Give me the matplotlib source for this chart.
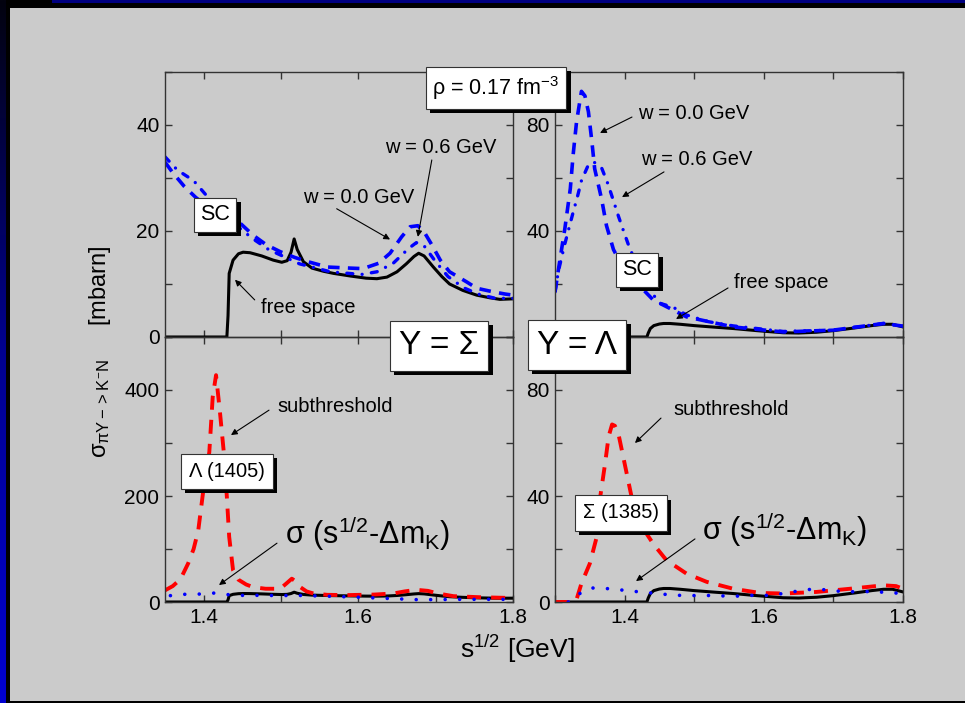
import matplotlib.pyplot as plt
import numpy as np
from matplotlib.patches import Rectangle
from matplotlib import patheffects
from matplotlib.colors import LinearSegmentedColormap
from matplotlib.ticker import MultipleLocator, FixedFormatter, FixedLocator

plt.rcParams['font.family'] = ['Liberation Sans', 'DejaVu Sans']
plt.rcParams['mathtext.fontset'] = 'custom'
plt.rcParams['mathtext.rm'] = 'Liberation Sans'
plt.rcParams['mathtext.it'] = 'Liberation Sans'
plt.rcParams['mathtext.bf'] = 'Liberation Sans:bold'

# ---------------- data
# free space, Y = Sigma (same curve in upper and lower left panels)
x_free_sig = [1.35, 1.43, 1.4315, 1.433, 1.438, 1.445, 1.451, 1.46, 1.475, 1.49, 1.501,
              1.508, 1.513, 1.517, 1.521, 1.529, 1.54, 1.555, 1.568, 1.59, 1.61, 1.624,
              1.637, 1.65, 1.662, 1.672, 1.678, 1.685, 1.697, 1.708, 1.718, 1.735, 1.753,
              1.77, 1.783, 1.8]
y_free_sig = [0, 0, 4, 12, 14.5, 15.7, 16.0, 15.9, 15.3, 14.5, 14.1,
              14.4, 16.0, 18.5, 16.5, 14.2, 13.0, 12.4, 12.0, 11.5, 11.1, 11.0,
              11.3, 12.3, 13.8, 15.2, 15.8, 15.3, 13.2, 11.4, 10.0, 8.8, 7.9,
              7.4, 7.1, 7.2]

# free space, Y = Lambda (same curve in upper and lower right panels)
x_free_lam = [1.3, 1.432, 1.434, 1.437, 1.442, 1.45, 1.456, 1.465, 1.48, 1.5, 1.53,
              1.556, 1.59, 1.628, 1.65, 1.676, 1.7, 1.73, 1.755, 1.772, 1.785, 1.8]
y_free_lam = [0, 0, 1.5, 3.2, 4.3, 4.9, 5.1, 5.1, 4.8, 4.3, 3.7,
              3.2, 2.4, 1.6, 1.5, 1.8, 2.4, 3.4, 4.3, 4.8, 4.8, 3.8]

# SC, Y = Sigma, w = 0.0 GeV
x_sc0_sig = [1.35, 1.36, 1.375, 1.39, 1.42, 1.447, 1.464, 1.481, 1.499, 1.518, 1.535,
             1.56, 1.589, 1.606, 1.626, 1.641, 1.656, 1.667, 1.677, 1.686, 1.695,
             1.706, 1.718, 1.74, 1.753, 1.775, 1.79, 1.8]
y_sc0_sig = [33.0, 31.0, 28.4, 26.3, 23.0, 21.5, 19.2, 17.4, 16.1, 15.0, 14.2,
             13.2, 13.0, 12.9, 13.9, 15.8, 18.9, 20.8, 21.0, 19.6, 17.4,
             14.5, 12.3, 10.4, 9.2, 8.5, 8.1, 7.9]

# SC, Y = Sigma, w = 0.6 GeV
x_sc6_sig = [1.35, 1.366, 1.387, 1.403, 1.43, 1.463, 1.484, 1.524, 1.564, 1.604, 1.624,
             1.645, 1.665, 1.675, 1.684, 1.699, 1.716, 1.736, 1.755, 1.777, 1.8]
y_sc6_sig = [34.0, 31.5, 29.5, 26.8, 22.5, 18.6, 16.5, 13.8, 12.3, 11.8, 12.3,
             13.9, 16.7, 17.8, 17.4, 14.4, 11.4, 9.3, 8.1, 7.3, 7.3]

# SC, Y = Lambda, w = 0.0 GeV
x_sc0_lam = [1.3, 1.307, 1.314, 1.322, 1.326, 1.331, 1.338, 1.343, 1.348, 1.353, 1.357,
             1.367, 1.374, 1.384, 1.4, 1.413, 1.441, 1.489, 1.556, 1.628, 1.7, 1.772, 1.8]
y_sc0_lam = [17, 29, 40.6, 56, 68.6, 81.3, 92.7, 91, 85, 73.7, 63.5,
             52, 42, 33, 25, 21.6, 14, 7.6, 3.8, 1.9, 2.6, 5.1, 4.1]

# SC, Y = Lambda, w = 0.6 GeV
x_sc6_lam = [1.3, 1.305, 1.314, 1.326, 1.332, 1.338, 1.348, 1.356, 1.367, 1.376, 1.384,
             1.391, 1.399, 1.407, 1.42, 1.435, 1.451, 1.47, 1.489, 1.52, 1.556, 1.628,
             1.7, 1.772, 1.8]
y_sc6_lam = [17, 25, 35, 47, 52.7, 59, 65, 66, 63.8, 57.8, 51.4,
             45.7, 39.6, 33.7, 26, 18, 12.7, 11.2, 8.3, 5.8, 4.2, 2.1,
             2.6, 5.1, 4.1]

# subthreshold, Y = Sigma (Lambda(1405))
x_sub_sig = [1.35, 1.36, 1.37, 1.38, 1.387, 1.393, 1.3996, 1.404, 1.4073, 1.4117, 1.416,
             1.421, 1.426, 1.43, 1.433, 1.438, 1.445, 1.455, 1.464, 1.48, 1.499, 1.507,
             1.514, 1.52, 1.525, 1.533, 1.542, 1.56, 1.585, 1.62, 1.645, 1.66, 1.675,
             1.69, 1.703, 1.723, 1.757, 1.8]
y_sub_sig = [22, 30, 43, 73, 100, 135, 211, 250, 283, 387, 428,
             359, 283, 198, 123, 60, 42, 33, 28, 25, 25, 35,
             44, 38, 28, 20, 16, 13.5, 13, 14, 16, 20, 23,
             21, 16, 11, 9, 7.5]

# sigma(s^1/2 - dm_K), Y = Sigma
x_shift_sig = [1.357, 1.365, 1.38, 1.395, 1.405, 1.415, 1.425, 1.44, 1.46, 1.48, 1.5,
               1.52, 1.545, 1.57, 1.6, 1.623, 1.65, 1.675, 1.7, 1.73, 1.77, 1.8]
y_shift_sig = [12, 14.5, 14.5, 15, 16, 17, 15, 12.5, 12.5, 12.5, 12,
               12.5, 11.5, 10.5, 9, 7.6, 6, 4.5, 4.5, 5, 5, 5]

# subthreshold, Y = Lambda (Sigma(1385))
x_sub_lam = [1.3, 1.328, 1.331, 1.338, 1.35, 1.36, 1.365, 1.372, 1.377, 1.382, 1.386,
             1.391, 1.4, 1.41, 1.422, 1.441, 1.46, 1.489, 1.518, 1.556, 1.595, 1.628,
             1.676, 1.724, 1.772, 1.79, 1.8]
y_sub_lam = [0, 0, 1, 7, 14.5, 24.6, 39.7, 52.3, 62.4, 67, 66.5,
             63.6, 52.3, 39.7, 29.6, 22, 15.8, 10.7, 7.6, 5, 3.4, 3.2,
             3.8, 5.0, 6.3, 6.0, 5.0]

# sigma(s^1/2 - dm_K), Y = Lambda
x_shift_lam = [1.319, 1.33, 1.342, 1.355, 1.379, 1.4, 1.422, 1.446, 1.469, 1.492, 1.513,
               1.54, 1.56, 1.583, 1.604, 1.628, 1.65, 1.674, 1.695, 1.719, 1.741, 1.765,
               1.787, 1.8]
y_shift_lam = [0, 2, 4.5, 5.3, 5.0, 4.4, 3.8, 3.2, 2.6, 2.4, 2.5,
               2.3, 2.2, 2.5, 2.5, 3.2, 4.2, 5.0, 4.4, 3.8, 4.0, 3.8,
               3.4, 3.3]

# upper right panel: the 0 label sits under the "Y = Lambda" box
tr_yticks = [0, 40, 80]
tr_ylabels = ['', '40', '80']

# ---------------- figure
W, H = 965, 703
GRAY = '#cbcbcb'
BLUE = '#0000ff'
RED = '#ff0000'


def rect(x0, y0, x1, y1):
    return [x0 / W, 1 - y1 / H, (x1 - x0) / W, (y1 - y0) / H]


def fpos(x, y):
    return x / W, 1 - y / H


fig = plt.figure(figsize=(W / 100, H / 100), dpi=100, facecolor='black')

# frame
fig.add_artist(Rectangle((10 / W, 2 / H), 955 / W, 693 / H, transform=fig.transFigure,
                         fc=GRAY, ec='none', zorder=-10))
fig.add_artist(Rectangle((52 / W, 1 - 3 / H), 913 / W, 3 / H, transform=fig.transFigure,
                         fc='#000080', ec='none', zorder=-10))
ax_strip = fig.add_axes([0, 0, 6 / W, 1])
strip_cmap = LinearSegmentedColormap.from_list('strip', ['#03030f', '#000090', '#0000d0'])
ax_strip.imshow(np.linspace(0, 1, 256).reshape(-1, 1), aspect='auto', cmap=strip_cmap)
ax_strip.axis('off')

ax_tl = fig.add_axes(rect(165, 72, 513, 337))
ax_tr = fig.add_axes(rect(555, 72, 903, 337))
ax_bl = fig.add_axes(rect(165, 337, 513, 602))
ax_br = fig.add_axes(rect(555, 337, 903, 602))


def style(ax, xlim, ylim, ymaj, xlabels):
    ax.set_xlim(*xlim)
    ax.set_ylim(*ylim)
    ax.patch.set_visible(False)
    ax.xaxis.set_major_locator(MultipleLocator(0.2))
    ax.xaxis.set_minor_locator(MultipleLocator(0.1))
    ax.yaxis.set_major_locator(MultipleLocator(ymaj))
    ax.yaxis.set_minor_locator(MultipleLocator(ymaj / 2))
    ax.tick_params(which='both', direction='in', top=True, right=True, length=5,
                   width=1, color='#333333', labelsize=15, pad=4)
    if not xlabels:
        ax.tick_params(labelbottom=False)
    for s in ax.spines.values():
        s.set_color('#333333')
        s.set_linewidth(1)


style(ax_tl, (1.35, 1.8), (0, 50), 20, False)
style(ax_tr, (1.3, 1.8), (0, 100), 40, False)
style(ax_bl, (1.35, 1.8), (0, 500), 200, True)
style(ax_br, (1.3, 1.8), (0, 100), 40, True)
ax_tr.yaxis.set_major_locator(FixedLocator(tr_yticks))
ax_tr.yaxis.set_major_formatter(FixedFormatter(tr_ylabels))

solid = dict(color='black', lw=2.2, zorder=2)
dash0 = dict(color=BLUE, lw=2.6, ls=(0, (3.2, 2.3)), zorder=2.5)
dash6 = dict(color=BLUE, lw=2.4, ls=(0, (1.8, 2.8, 0.01, 2.8)), dash_capstyle='round',
             zorder=2.5)
red_d = dict(color=RED, lw=2.8, ls=(0, (3.6, 2.6)), zorder=2.5)
dots = dict(color=BLUE, lw=2.6, ls=(0, (0.01, 4)), dash_capstyle='round', zorder=2.5)

ax_tl.plot(x_free_sig, y_free_sig, **solid)
ax_tl.plot(x_sc0_sig, y_sc0_sig, **dash0)
ax_tl.plot(x_sc6_sig, y_sc6_sig, **dash6)

ax_tr.plot(x_free_lam, y_free_lam, **solid)
ax_tr.plot(x_sc0_lam, y_sc0_lam, **dash0)
ax_tr.plot(x_sc6_lam, y_sc6_lam, **dash6)

ax_bl.plot(x_free_sig, y_free_sig, **solid)
ax_bl.plot(x_sub_sig, y_sub_sig, **red_d)
ax_bl.plot(x_shift_sig, y_shift_sig, **dots)

ax_br.plot(x_free_lam, y_free_lam, **solid)
ax_br.plot(x_sub_lam, y_sub_lam, **red_d)
ax_br.plot(x_shift_lam, y_shift_lam, **dots)

# ---------------- annotations
arrow = dict(arrowstyle='-|>', color='black', lw=0.8, mutation_scale=9,
             shrinkA=0, shrinkB=0)


def note(ax, txt, pos, tail, head, size=14.5):
    ax.text(pos[0], pos[1], txt, fontsize=size, ha='center', va='center')
    ax.annotate('', xy=head, xytext=tail, arrowprops=arrow)


def shadow(t, off=3):
    t.get_bbox_patch().set_path_effects([
        patheffects.SimplePatchShadow(offset=(off, -off), shadow_rgbFace='black', alpha=1.0),
        patheffects.Normal()])


def boxed(ax, txt, pos, size, pad=0.3):
    t = ax.text(pos[0], pos[1], txt, fontsize=size, ha='center', va='center',
                bbox=dict(boxstyle='square,pad=%s' % pad, fc='white', ec='#333333', lw=0.8))
    shadow(t)
    return t


def fig_boxed(txt, pos, size, pad=0.3):
    x, y = fpos(*pos)
    t = fig.text(x, y, txt, fontsize=size, ha='center', va='center', zorder=5,
                 bbox=dict(boxstyle='square,pad=%s' % pad, fc='white', ec='#333333', lw=0.8))
    shadow(t)
    return t


sig_shift = r'σ (s$^{1/2}$-Δm$_{\mathrm{K}}$)'

note(ax_tl, 'w = 0.6 GeV', (1.706, 35.7), (1.695, 33.4), (1.677, 18.9))
note(ax_tl, 'w = 0.0 GeV', (1.600, 26.4), (1.572, 24.2), (1.641, 18.4))
note(ax_tl, 'free space', (1.535, 5.5), (1.466, 7.0), (1.4405, 10.8))
boxed(ax_tl, 'SC', (1.4147, 23.1), 15.5, 0.3)

note(ax_tr, 'w = 0.0 GeV', (1.499, 84.2), (1.4106, 83.0), (1.3647, 77.0))
note(ax_tr, 'w = 0.6 GeV', (1.503, 66.8), (1.4566, 62.3), (1.3963, 52.8))
note(ax_tr, 'free space', (1.6255, 20.4), (1.5486, 18.5), (1.4739, 6.8))
boxed(ax_tr, 'SC', (1.4178, 25.3), 15.5, 0.3)

note(ax_bl, 'subthreshold', (1.5705, 368), (1.4845, 362), (1.4353, 315))
note(ax_bl, sig_shift, (1.6118, 130), (1.4948, 111), (1.4198, 32), size=22)
boxed(ax_bl, 'Λ (1405)', (1.4302, 247), 14.5, 0.4)

note(ax_br, 'subthreshold', (1.5529, 72.8), (1.4523, 69.4), (1.4149, 60.0))
note(ax_br, sig_shift, (1.6305, 27.2), (1.5011, 23.8), (1.4164, 7.9), size=22)
boxed(ax_br, 'Σ (1385)', (1.3948, 33.6), 14.5, 0.4)

fig_boxed('Y = Σ', (439, 346), 24, 0.28)
fig_boxed('Y = Λ', (577, 345), 24, 0.28)
fig_boxed(r'ρ = 0.17 fm$^{-3}$', (496, 88), 15.5, 0.32)

# axis titles
x, y = fpos(517, 649)
fig.text(x, y, r's$^{1/2}$ [GeV]', fontsize=19, ha='center', va='center')
x, y = fpos(100, 352)
fig.text(x, y, r'$\sigma_{\pi Y ->K^{-}N}$     [mbarn]', fontsize=17,
         rotation=90, ha='center', va='center')

fig.savefig('out.png', dpi=100, facecolor=fig.get_facecolor())
